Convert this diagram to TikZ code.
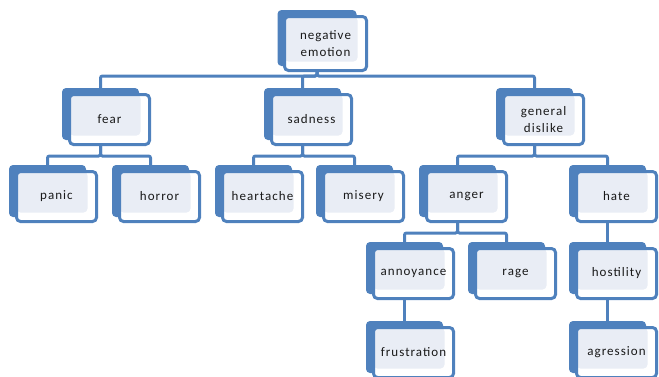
\documentclass[tikz,border=0pt]{standalone}
\usepackage{fontspec}
\newfontfamily\boxfont{Carlito}[LetterSpace=8]
\usetikzlibrary{backgrounds}

\definecolor{smblue}{RGB}{79,129,189}
\definecolor{smfill}{RGB}{233,237,245}

\begin{document}
\begin{tikzpicture}[x=1pt,y=-1pt]
    \tikzstyle{back}=[fill=smblue, rounded corners=4pt, inner sep=0pt,
        minimum width=77pt, minimum height=52pt]
    \tikzstyle{box}=[draw=smblue, line width=3pt, fill=white, rounded corners=4pt,
        minimum width=80pt, minimum height=50pt, inner sep=0pt, align=center,
        text=black!90, font=\boxfont\fontsize{13}{17}\selectfont,
        path picture={\fill[smfill] (path picture bounding box.north west)
            rectangle ([shift={(-9pt,9pt)}]path picture bounding box.south east);}]
    \tikzstyle{link}=[draw=smblue, line width=3pt, rounded corners=2pt]

    \useasboundingbox (0,0) rectangle (659,376);
    \clip (0,0) rectangle (659,376);

    % top
    \node[back, minimum width=79pt, minimum height=56pt] (n_root_b) at (317, 38) {};
    \node[box, minimum width=82pt, minimum height=54pt] (n_root) at (325.5, 43.5) {negative\\emotion};

    % first row
    \node[back] (n_fear_b) at (100.5, 114) {};
    \node[box] (n_fear) at (109.5, 119.5) {fear};
    \node[back] (n_sad_b) at (302.5, 114) {};
    \node[box] (n_sad) at (311.5, 119.5) {sadness};
    \node[back] (n_dis_b) at (534.5, 114) {};
    \node[box] (n_dis) at (543.5, 119.5) {general\\dislike};

    % second row
    \node[back] (n_panic_b) at (47.5, 191) {};
    \node[box] (n_panic) at (56.5, 196.5) {panic};
    \node[back] (n_horror_b) at (150.5, 191) {};
    \node[box] (n_horror) at (159.5, 196.5) {horror};
    \node[back] (n_heart_b) at (253.5, 191) {};
    \node[box] (n_heart) at (262.5, 196.5) {heartache};
    \node[back] (n_misery_b) at (354.5, 191) {};
    \node[box] (n_misery) at (363.5, 196.5) {misery};
    \node[back] (n_anger_b) at (457.5, 191) {};
    \node[box] (n_anger) at (466.5, 196.5) {anger};
    \node[back] (n_hate_b) at (607.5, 191) {};
    \node[box] (n_hate) at (616.5, 196.5) {hate};

    % third row
    \node[back] (n_annoy_b) at (404.5, 268) {};
    \node[box] (n_annoy) at (413.5, 273.5) {annoyance};
    \node[back] (n_rage_b) at (506.5, 268) {};
    \node[box] (n_rage) at (515.5, 273.5) {rage};
    \node[back] (n_host_b) at (607.5, 268) {};
    \node[box] (n_host) at (616.5, 273.5) {hostility};

    % last row
    \node[back] (n_frust_b) at (404.5, 347) {};
    \node[box] (n_frust) at (413.5, 352.5) {frustration};
    \node[back] (n_agr_b) at (607.5, 347) {};
    \node[box] (n_agr) at (616.5, 352.5) {agression};

    \coordinate (bar_0) at (0, 76);
    \coordinate (bar_1) at (0, 156);
    \coordinate (bar_2) at (0, 233);

    \begin{pgfonlayer}{background}
    \draw[link] (n_root_b) -- (n_root_b |- bar_0) -| (n_fear_b);
    \draw[link] (n_root_b) -- (n_root_b |- bar_0) -| (n_sad_b);
    \draw[link] (n_root_b) -- (n_root_b |- bar_0) -| (n_dis_b);

    \draw[link] (n_fear_b) -- (n_fear_b |- bar_1) -| (n_panic_b);
    \draw[link] (n_fear_b) -- (n_fear_b |- bar_1) -| (n_horror_b);
    \draw[link] (n_sad_b) -- (n_sad_b |- bar_1) -| (n_heart_b);
    \draw[link] (n_sad_b) -- (n_sad_b |- bar_1) -| (n_misery_b);
    \draw[link] (n_dis_b) -- (n_dis_b |- bar_1) -| (n_anger_b);
    \draw[link] (n_dis_b) -- (n_dis_b |- bar_1) -| (n_hate_b);

    \draw[link] (n_anger_b) -- (n_anger_b |- bar_2) -| (n_annoy_b);
    \draw[link] (n_anger_b) -- (n_anger_b |- bar_2) -| (n_rage_b);
    \draw[link] (n_annoy_b) -- (n_frust_b);
    \draw[link] (n_hate_b) -- (n_host_b);
    \draw[link] (n_host_b) -- (n_agr_b);
    \end{pgfonlayer}

\end{tikzpicture}
\end{document}
